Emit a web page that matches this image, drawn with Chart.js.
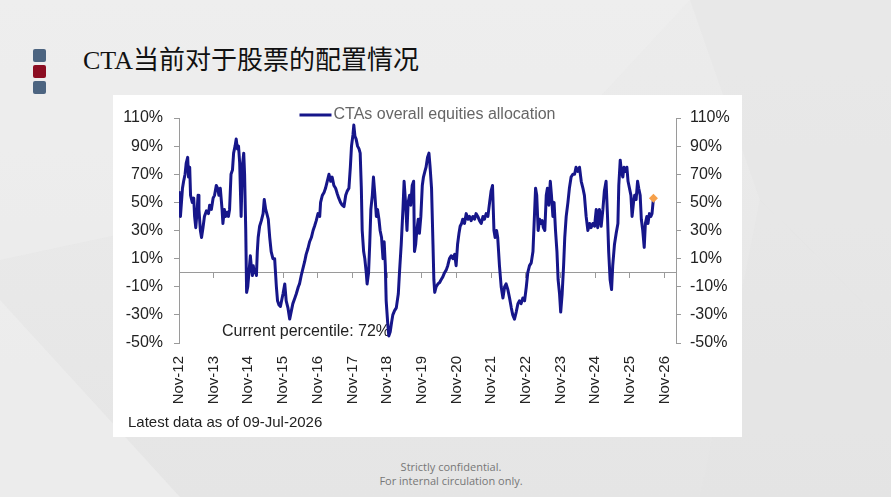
<!DOCTYPE html>
<html>
<head>
<meta charset="utf-8">
<script src="https://cdn.jsdelivr.net/npm/chart.js@4.4.0/dist/chart.umd.min.js"></script>
<style>
  html, body { margin: 0; padding: 0; }
  body {
    width: 891px; height: 497px; position: relative; overflow: hidden;
    background: linear-gradient(180deg, #ececec 0%, #e8e8e8 60%, #e5e5e5 100%);
    font-family: "Liberation Sans", Arial, sans-serif;
  }
  .shade { position: absolute; left: 0; top: 0; width: 891px; height: 497px; }
  .s1 { background: #efefef; clip-path: polygon(0 0, 690px 0, 560px 140px, 0 260px); opacity: .5; }
  .s2 { background: #e4e4e4; clip-path: polygon(690px 0, 891px 0, 891px 330px, 760px 200px); opacity: .4; }
  .s3 { background: #f0f0f0; clip-path: polygon(0 300px, 180px 497px, 0 497px); opacity: .6; }
  .s4 { background: #e3e3e3; clip-path: polygon(760px 200px, 891px 330px, 891px 497px, 700px 497px); opacity: .4; }
  .mark { position: absolute; left: 33px; width: 13px; height: 13px; border-radius: 2px; }
  .title {
    position: absolute; left: 83px; top: 44px; font-size: 26px; line-height: 34px; color: #111;
    font-family: "Liberation Serif", "Noto Sans CJK SC", serif; white-space: nowrap;
  }
  .panel { position: absolute; left: 113px; top: 95px; width: 629px; height: 342px; background: #fff; }
  .foot {
    position: absolute; left: 301px; width: 300px; top: 460px; text-align: center;
    font-family: "Open Sans", sans-serif; font-size: 11px; line-height: 14px; color: #777;
  }
</style>
</head>
<body>
<div class="shade s1"></div>
<div class="shade s2"></div>
<div class="shade s3"></div>
<div class="shade s4"></div>
<div class="mark" style="top:49px;background:#4c6480"></div>
<div class="mark" style="top:65px;background:#8c0d22"></div>
<div class="mark" style="top:81px;background:#4c6480"></div>
<div class="title">CTA当前对于股票的配置情况</div>
<div class="panel"><canvas id="ctaChart" width="629" height="342"></canvas></div>
<div class="foot">Strictly confidential.<br>For internal circulation only.</div>

<script>
// months since Nov-2012
const months = [
  0, 0.5, 1.2, 1.6, 2.1, 2.5, 3.0, 3.3, 3.7, 4.0, 4.6, 5.1, 5.4, 5.8, 6.2, 6.6, 6.9, 7.4, 7.8, 8.3,
  8.8, 9.5, 10.2, 10.6, 11.2, 11.8, 12.3, 12.9, 13.4, 13.8, 14.3, 14.9, 15.2, 15.7, 16.1, 16.6, 17.1, 17.5, 18.0, 18.5,
  18.9, 19.4, 19.8, 20.2, 20.6, 21.0, 21.5, 21.9, 22.4, 22.7, 23.1, 23.4, 23.8, 24.2, 24.7, 25.0, 25.4, 25.7, 26.1, 26.4,
  26.8, 27.1, 27.4, 27.9, 28.5, 29.1, 29.5, 30.0, 30.4, 30.9, 31.4, 31.9, 32.5, 33.1, 33.7, 34.1, 34.6, 35.1, 35.5, 36.0,
  36.6, 37.1, 37.7, 38.3, 38.9, 39.4, 40.1, 40.6, 41.3, 41.7, 42.3, 42.9, 43.5, 44.0, 44.6, 45.2, 45.8, 46.4, 46.9, 47.5,
  48.1, 48.7, 49.0, 49.6, 50.2, 50.7, 51.3, 51.9, 52.5, 53.0, 53.6, 54.2, 54.8, 55.3, 55.9, 56.5, 57.1, 57.7, 58.2, 58.8,
  59.3, 59.7, 60.2, 60.5, 60.9, 61.3, 61.8, 62.3, 62.7, 63.1, 63.4, 63.9, 64.3, 64.8, 65.1, 65.6, 66.0, 66.4, 66.9, 67.3,
  67.8, 68.3, 68.7, 69.2, 69.6, 70.1, 70.6, 71.0, 71.4, 71.7, 72.2, 72.6, 73.1, 73.6, 74.0, 74.6, 75.2, 75.9, 76.3, 76.9,
  77.5, 77.9, 78.4, 78.9, 79.3, 79.8, 80.2, 80.7, 81.2, 81.5, 81.9, 82.3, 82.8, 83.2, 83.7, 84.2, 84.6, 85.1, 85.5, 86.0,
  86.5, 86.9, 87.4, 87.9, 88.2, 88.5, 89.0, 89.6, 90.2, 90.7, 91.3, 91.9, 92.5, 93.0, 93.6, 94.2, 94.8, 95.4, 95.9, 96.4,
  96.9, 97.3, 97.8, 98.2, 98.8, 99.4, 100.0, 100.5, 101.1, 101.7, 102.3, 102.8, 103.4, 104.0, 104.6, 105.2, 105.7, 106.3, 106.9, 107.5,
  108.0, 108.5, 109.0, 109.4, 109.9, 110.3, 110.9, 111.5, 112.1, 112.7, 113.2, 113.8, 114.4, 115.0, 115.5, 116.1, 116.7, 117.3, 117.8, 118.4,
  119.0, 119.6, 120.2, 120.7, 121.3, 121.9, 122.5, 123.0, 123.4, 123.8, 124.3, 124.8, 125.2, 125.7, 126.1, 126.6, 127.1, 127.5, 128.0, 128.5,
  128.9, 129.4, 129.8, 130.3, 130.8, 131.2, 131.7, 132.1, 132.6, 133.1, 133.5, 134.0, 134.6, 135.1, 135.7, 136.3, 136.9, 137.4, 138.0, 138.6,
  139.2, 139.8, 140.3, 140.9, 141.5, 142.1, 142.6, 143.2, 143.8, 144.4, 144.9, 145.5, 146.1, 146.7, 147.2, 147.8, 148.3, 148.7, 149.2, 149.7,
  150.1, 150.7, 151.3, 151.9, 152.2, 152.7, 153.1, 153.6, 154.0, 154.5, 155.0, 155.4, 155.9, 156.4, 156.8, 157.3, 157.7, 158.2, 158.7, 159.1,
  159.6, 160.0, 160.5, 161.0, 161.4, 161.9, 162.3, 162.8, 163.3, 163.7, 164.2
];

// CTAs overall equities allocation (%)
const allocation = [
  58, 40, 60, 65, 70, 78, 82, 68, 75, 55, 50, 53, 40, 32, 42, 55, 45, 30, 25, 32,
  40, 44, 42, 48, 45, 53, 55, 62, 60, 55, 60, 45, 35, 45, 40, 43, 40, 45, 70, 73,
  85, 90, 95, 88, 90, 78, 40, 75, 85, 70, 30, -14, -10, 0, 12, 5, -2, 5, 0, 2,
  -2, 15, 25, 33, 37, 42, 52, 45, 42, 38, 25, 15, 10, 10, -10, -20, -23, -24, -20, -15,
  -8, -20, -25, -33, -27, -22, -18, -15, -10, -8, -2, 3, 8, 13, 17, 22, 25, 30, 33, 37,
  42, 40, 50, 55, 57, 60, 65, 70, 65, 68, 62, 60, 56, 53, 50, 48, 47, 55, 58, 60,
  75, 90, 98, 105, 97, 95, 90, 88, 85, 60, 30, 15, 10, 0, -8, 0, 20, 45, 55, 68,
  55, 40, 45, 38, 30, 25, 10, 22, 5, -20, -35, -45, -42, -35, -30, -27, -25, -15, 0, 20,
  45, 65, 50, 30, 50, 55, 48, 62, 65, 15, 20, 30, 38, 28, 40, 62, 68, 72, 75, 82,
  85, 75, 60, 20, -5, -14, -10, -8, -7, -5, -3, 0, 2, 5, 10, 12, 10, 13, 5, 20,
  28, 33, 35, 38, 35, 42, 38, 40, 37, 40, 38, 42, 40, 37, 35, 40, 38, 42, 40, 50,
  58, 62, 30, 25, 30, 25, 5, -10, -18, -10, -8, -12, -18, -25, -30, -33, -28, -22, -20, -22,
  -18, -20, -10, 0, 5, 7, 15, 40, 60, 55, 30, 38, 35, 37, 32, 30, 55, 60, 48, 65,
  55, 40, 50, 30, 15, -5, -15, -28, -15, 5, 25, 40, 50, 60, 68, 70, 70, 75, 72, 75,
  65, 60, 55, 40, 30, 35, 32, 35, 33, 45, 32, 45, 33, 45, 58, 65, 40, 15, -5, -12,
  5, 20, 28, 35, 62, 80, 72, 68, 75, 72, 75, 65, 60, 55, 40, 50, 55, 52, 65, 60,
  55, 38, 30, 18, 35, 40, 35, 42, 40, 42, 53
];

const yearLabels = ['Nov-12', 'Nov-13', 'Nov-14', 'Nov-15', 'Nov-16', 'Nov-17', 'Nov-18', 'Nov-19',
  'Nov-20', 'Nov-21', 'Nov-22', 'Nov-23', 'Nov-24', 'Nov-25', 'Nov-26'];
const yTicks = [-50, -30, -10, 10, 30, 50, 70, 90, 110];

const lineColor = '#16168a';
const axisGray = '#9a9a9a';

Chart.defaults.font.family = '"Liberation Sans", Arial, sans-serif';
Chart.defaults.font.size = 16;
Chart.defaults.color = '#222';

const yearTicks = scale => { scale.ticks = yearLabels.map((_, i) => ({ value: i * 12 })); };
const valueTicks = scale => { scale.ticks = yTicks.map(v => ({ value: v })); };

const overlayText = {
  id: 'overlayText',
  beforeDatasetsDraw(chart) {
    const { ctx, chartArea } = chart;
    ctx.save();
    ctx.font = '16px "Liberation Sans", Arial, sans-serif';
    ctx.fillStyle = '#222';
    ctx.textBaseline = 'middle';
    ctx.fillText('Current percentile: 72%', chartArea.left + 43, chartArea.bottom - 11);
    ctx.restore();
  },
  afterDraw(chart) {
    const { ctx, chartArea } = chart;
    const ds = chart.data.datasets[0];
    ctx.save();
    ctx.font = '16px "Liberation Sans", Arial, sans-serif';
    ctx.textBaseline = 'middle';
    const tw = ctx.measureText(ds.label).width;
    const total = 32 + 2 + tw;
    const x0 = (chartArea.left + chartArea.right) / 2 - total / 2;
    const ly = chartArea.top - 3;
    ctx.strokeStyle = ds.borderColor;
    ctx.lineWidth = 3;
    ctx.beginPath();
    ctx.moveTo(x0, ly);
    ctx.lineTo(x0 + 32, ly);
    ctx.stroke();
    ctx.fillStyle = '#666';
    ctx.fillText(ds.label, x0 + 34, ly);

    ctx.font = '15px "Liberation Sans", Arial, sans-serif';
    ctx.fillStyle = '#222';
    ctx.fillText('Latest data as of 09-Jul-2026', 15, 328);
    ctx.restore();
  }
};

const ctx = document.getElementById('ctaChart').getContext('2d');
new Chart(ctx, {
  type: 'line',
  data: {
    datasets: [{
      label: 'CTAs overall equities allocation',
      data: months.map((m, i) => ({ x: m, y: allocation[i] })),
      borderColor: lineColor,
      borderWidth: 3,
      borderJoinStyle: 'round',
      pointRadius: 0,
      tension: 0,
      order: 2
    }, {
      label: 'Latest',
      data: [{ x: months[months.length - 1], y: allocation[allocation.length - 1] }],
      showLine: false,
      pointStyle: 'rectRot',
      pointRadius: 4.5,
      backgroundColor: '#f6a04a',
      borderColor: '#f6a04a',
      borderWidth: 0,
      order: 1
    }]
  },
  options: {
    responsive: false,
    animation: false,
    layout: { padding: { top: 23, left: 0, right: 0, bottom: 0 } },
    plugins: {
      legend: { display: false },
      tooltip: { enabled: false }
    },
    scales: {
      x: {
        type: 'linear',
        min: 0,
        max: 172,
        afterBuildTicks: yearTicks,
        afterFit: scale => { scale.height = 94; },
        grid: { display: false },
        border: { display: false },
        ticks: {
          minRotation: 90,
          maxRotation: 90,
          padding: 5,
          autoSkip: false,
          font: { size: 15 },
          callback: (v, i) => yearLabels[i]
        }
      },
      x2: {
        type: 'linear',
        axis: 'x',
        position: { y: 0 },
        min: 0,
        max: 172,
        afterBuildTicks: yearTicks,
        grid: { display: true, drawOnChartArea: false, drawTicks: true, tickLength: 5, color: axisGray },
        border: { display: true, color: axisGray, width: 1 },
        ticks: { display: false }
      },
      y: {
        min: -50,
        max: 110,
        position: 'left',
        afterBuildTicks: valueTicks,
        afterFit: scale => { scale.width = 66; },
        grid: { display: true, drawOnChartArea: false, drawTicks: true, tickLength: 5, color: axisGray },
        border: { display: true, color: axisGray },
        ticks: { padding: 11, callback: v => v + '%' }
      },
      y2: {
        min: -50,
        max: 110,
        position: 'right',
        afterBuildTicks: valueTicks,
        afterFit: scale => { scale.width = 66; },
        grid: { display: true, drawOnChartArea: false, drawTicks: true, tickLength: 5, color: axisGray },
        border: { display: true, color: axisGray },
        ticks: { padding: 9, callback: v => v + '%' }
      }
    }
  },
  plugins: [overlayText]
});
</script>
</body>
</html>
